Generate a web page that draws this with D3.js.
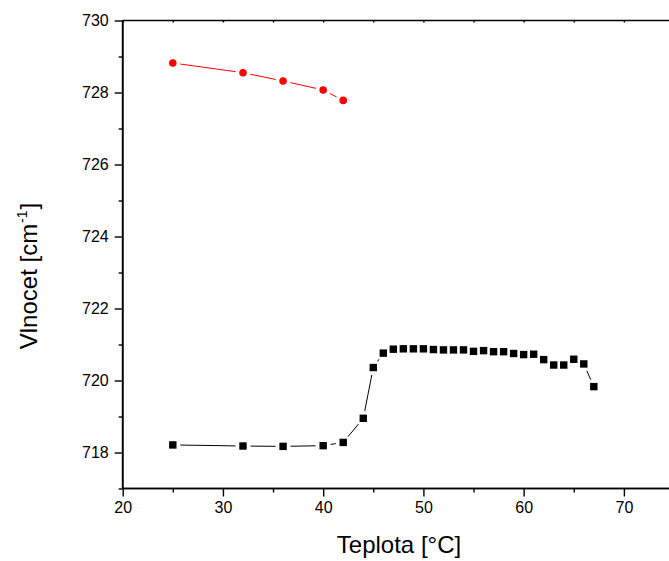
<!DOCTYPE html>
<html>
<head>
<meta charset="utf-8">
<script src="https://cdn.jsdelivr.net/npm/d3@7"></script>
<style>
  html, body { margin: 0; padding: 0; background: #fff; }
  svg { display: block; font-family: "Liberation Sans", Arial, sans-serif; }
</style>
</head>
<body>
<svg id="chart" width="669" height="561"></svg>
<script>
// Wavenumber of the band vs. temperature, two series
const redTemp = [25, 32, 36, 40, 42];
const redWave = [728.82, 728.55, 728.32, 728.07, 727.78];

const blackTemp = [25, 32, 36, 40, 42, 44, 45, 46, 47, 48, 49, 50, 51, 52, 53, 54, 55,
                   56, 57, 58, 59, 60, 61, 62, 63, 64, 65, 66, 67];
const blackWave = [718.21, 718.18, 718.17, 718.19, 718.28, 718.95, 720.36, 720.76,
                   720.87, 720.88, 720.88, 720.88, 720.86, 720.85, 720.85, 720.85,
                   720.81, 720.83, 720.80, 720.80, 720.75, 720.72, 720.73, 720.58,
                   720.43, 720.43, 720.59, 720.46, 719.83];

const xMajor = [20, 30, 40, 50, 60, 70];
const xMinor = [25, 35, 45, 55, 65, 75];
const yMajor = [718, 720, 722, 724, 726, 728, 730];
const yMinor = [717, 719, 721, 723, 725, 727, 729];

const xTitle = "Teplota [°C]";
const yTitle = "Vlnocet [cm";
const yTitleSup = "-1";

const svg = d3.select("#chart");
const plotL = 122.7, plotR = 674, plotT = 20.5, plotB = 488.5;

const x = d3.scaleLinear().domain([20, 75]).range([plotL, plotR]);
const y = d3.scaleLinear().domain([717, 730]).range([plotB, plotT]);

const tickFont = 16;
const titleFont = 24;

// bottom axis
const gx = svg.append("g").attr("transform", `translate(0,${plotB})`);
gx.call(d3.axisBottom(x).tickValues(xMajor).tickSize(8).tickPadding(5).tickFormat(d3.format("d")));
gx.append("g").call(d3.axisBottom(x).tickValues(xMinor).tickSize(4).tickFormat(""));

// left axis
const gy = svg.append("g").attr("transform", `translate(${plotL},0)`);
gy.call(d3.axisLeft(y).tickValues(yMajor).tickSize(8).tickPadding(6).tickFormat(d3.format("d")));
gy.append("g").call(d3.axisLeft(y).tickValues(yMinor).tickSize(4).tickFormat(""));

// top frame line with small inward ticks
const gt = svg.append("g").attr("transform", `translate(0,${plotT})`);
gt.call(d3.axisTop(x).tickValues(xMajor.concat(xMinor)).tickSize(-2).tickFormat(""));

svg.selectAll(".domain").attr("stroke", "#000").attr("stroke-width", 1.6);
svg.selectAll(".tick line").attr("stroke", "#000").attr("stroke-width", 1.4);
svg.selectAll(".tick text").attr("font-size", tickFont).attr("fill", "#000")
  .attr("font-family", "Liberation Sans, Arial, sans-serif");

// plain spines without the generator's end caps
gx.selectAll(".domain").attr("d", `M${plotL},0H${plotR}`);
gy.selectAll(".domain").attr("d", `M0,${plotT}V${plotB}`);
gt.selectAll(".domain").attr("d", `M${plotL},0H${plotR}`);

// Connecting line broken near each marker
function gappedSegments(xs, ys, gap) {
  const segs = [];
  for (let i = 0; i < xs.length - 1; i++) {
    const x1 = x(xs[i]), y1 = y(ys[i]), x2 = x(xs[i + 1]), y2 = y(ys[i + 1]);
    const dx = x2 - x1, dy = y2 - y1, len = Math.hypot(dx, dy);
    if (len <= 2 * gap + 0.5) continue;
    const ux = dx / len, uy = dy / len;
    segs.push([x1 + ux * gap, y1 + uy * gap, x2 - ux * gap, y2 - uy * gap]);
  }
  return segs;
}

function drawSeries(xs, ys, color, shape) {
  const g = svg.append("g");
  g.selectAll("line").data(gappedSegments(xs, ys, 7.5)).join("line")
    .attr("x1", d => d[0]).attr("y1", d => d[1])
    .attr("x2", d => d[2]).attr("y2", d => d[3])
    .attr("stroke", color).attr("stroke-width", 1);
  const pts = xs.map((v, i) => [v, ys[i]]);
  if (shape === "circle") {
    g.selectAll("circle").data(pts).join("circle")
      .attr("cx", d => x(d[0])).attr("cy", d => y(d[1])).attr("r", 3.8)
      .attr("fill", color);
  } else {
    const s = 7.4;
    g.selectAll("rect").data(pts).join("rect")
      .attr("x", d => x(d[0]) - s / 2).attr("y", d => y(d[1]) - s / 2)
      .attr("width", s).attr("height", s).attr("fill", color);
  }
}

drawSeries(redTemp, redWave, "#ff0000", "circle");
drawSeries(blackTemp, blackWave, "#000000", "square");

// axis titles
svg.append("text")
  .attr("x", 399).attr("y", 553)
  .attr("text-anchor", "middle").attr("font-size", titleFont).attr("fill", "#000")
  .text(xTitle);

const yt = svg.append("text")
  .attr("transform", `translate(37,276) rotate(-90)`)
  .attr("text-anchor", "middle").attr("font-size", titleFont).attr("fill", "#000");
yt.append("tspan").text(yTitle);
yt.append("tspan").attr("font-size", 14).attr("dy", -10).attr("dx", 1).text(yTitleSup);
yt.append("tspan").attr("dy", 10).attr("dx", 1).text("]");
</script>
</body>
</html>
